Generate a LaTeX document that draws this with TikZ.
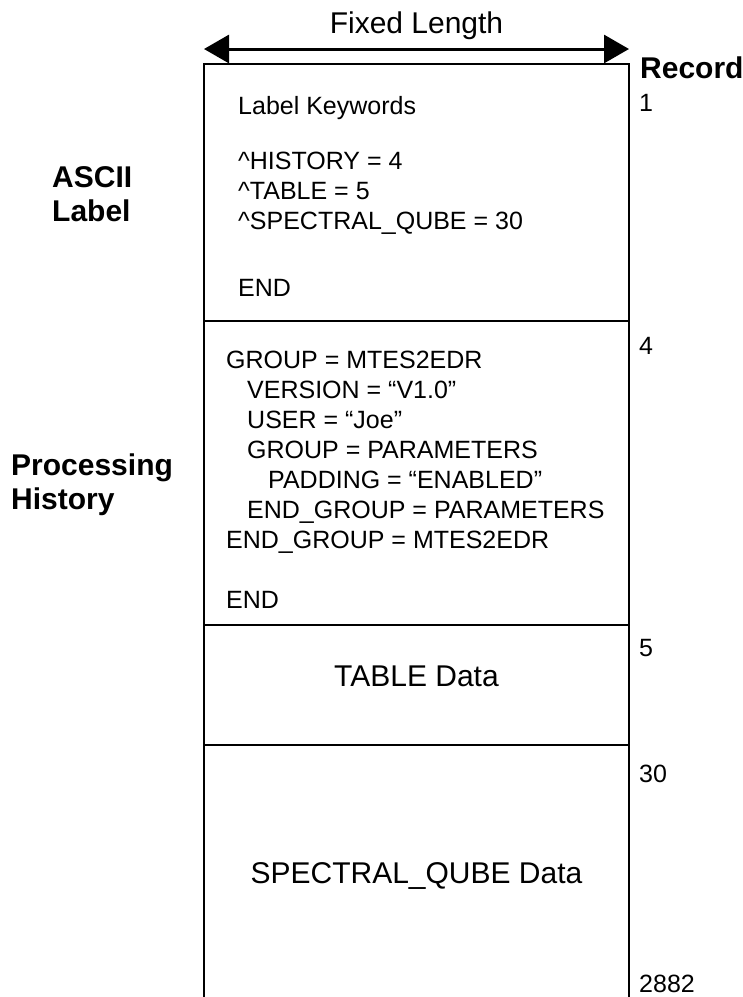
\documentclass[tikz,border=0pt]{standalone}
\usepackage{fontspec}
\setmainfont{Liberation Sans}
\usetikzlibrary{
  arrows.meta,
  positioning,
}
\tikzset{
  >={Triangle[length=25pt,width=28pt]},
  recframe/.style={line width=2.5pt},
  keytext/.style={font=\fontsize{25pt}{30pt}\selectfont,inner sep=0pt,align=left,anchor=north west},
  datatext/.style={font=\fontsize{30pt}{36pt}\selectfont,inner sep=0pt,anchor=base},
  sidelabel/.style={font=\bfseries\fontsize{30pt}{34pt}\selectfont,inner sep=0pt,align=left,anchor=north west},
  recno/.style={font=\fontsize{25pt}{30pt}\selectfont,inner sep=0pt,anchor=base west},
}

\begin{document}
\begin{tikzpicture}[x=1pt,y=-1pt]
        \useasboundingbox (0,0) rectangle (743,997);

        % record frame, open at the bottom
        \coordinate (tl) at (204,64);
        \coordinate (tr) at (629,64);
        \coordinate (bl) at (204,997);
        \coordinate (br) at (629,997);
        \draw[recframe] (bl) -- (tl) -- (tr) -- (br);
        \foreach \y/\n in {321/hist,625/table,745/qube} {
          \coordinate (\n l) at (204,\y);
          \coordinate (\n r) at (629,\y);
          \draw[recframe] (\n l) -- (\n r);
        }

        % width arrow
        \coordinate (al) at (204,49);
        \coordinate (ar) at (629,49);
        \draw[<->,line width=3pt] (al) -- (ar);
        \node[datatext] (fixlen) at (416.5,33) {Fixed Length};

        % section contents
        \node[keytext] (keys) at (238,96) {Label Keywords\\[25pt]
          \textasciicircum HISTORY = 4\\
          \textasciicircum TABLE = 5\\
          \textasciicircum SPECTRAL\_QUBE = 30\\[37pt]
          END};
        \node[keytext] (histtxt) at (226,351) {GROUP = MTES2EDR\\
          \hspace*{21pt}VERSION = “V1.0”\\
          \hspace*{21pt}USER = “Joe”\\
          \hspace*{21pt}GROUP = PARAMETERS\\
          \hspace*{42pt}PADDING = “ENABLED”\\
          \hspace*{21pt}END\_GROUP = PARAMETERS\\
          END\_GROUP = MTES2EDR\\[30pt]
          END};
        \node[datatext] (tabletxt) at (416.5,686) {TABLE Data};
        \node[datatext] (qubetxt) at (416.5,883) {SPECTRAL\_QUBE Data};

        % left labels
        \node[sidelabel] (ascii) at (52,166) {ASCII\\Label};
        \node[sidelabel] (proc) at (11,454) {Processing\\History};

        % record numbers
        \node[recno,font=\bfseries\fontsize{30pt}{36pt}\selectfont] (record) at (640,78) {Record};
        \node[recno] (r1) at (639,111) {1};
        \node[recno] (r4) at (639,354) {4};
        \node[recno] (r5) at (639,656) {5};
        \node[recno] (r30) at (639,782) {30};
        \node[recno] (r2882) at (639,992) {2882};

      \end{tikzpicture}
\end{document}
